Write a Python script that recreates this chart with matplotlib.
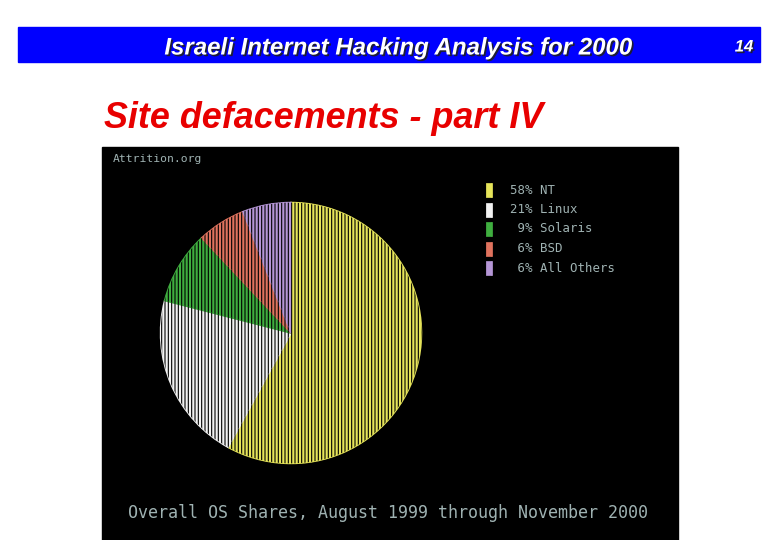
import matplotlib
matplotlib.use('Agg')
import matplotlib.pyplot as plt
import matplotlib.patheffects as pe
from matplotlib.patches import Rectangle

# data
os_names = ['NT', 'Linux', 'Solaris', 'BSD', 'All Others']
os_share = [58, 21, 9, 6, 6]
os_colors = ['#e6e45a', '#f2f2f2', '#3fae3f', '#e0735e', '#b596d6']

title = 'Israeli Internet Hacking Analysis for 2000'
subtitle = 'Site defacements - part IV'
caption = 'Overall OS Shares, August 1999 through November 2000'

plt.rcParams['hatch.linewidth'] = 0.8

fig = plt.figure(figsize=(7.8, 5.4), dpi=100)
fig.patch.set_facecolor('white')

# page layer in pixel coords
bg = fig.add_axes([0, 0, 1, 1])
bg.set_xlim(0, 780)
bg.set_ylim(540, 0)
bg.axis('off')

bg.add_patch(Rectangle((18, 27), 742, 35, color='#0000ff'))
shadow = [pe.withSimplePatchShadow(offset=(1.2, -1.2), shadow_rgbFace='#202020', alpha=0.9)]
bg.text(398, 48, title, color='white', fontsize=17.3, fontweight='bold', style='italic',
        family='Liberation Sans', ha='center', va='center', path_effects=shadow)
bg.text(744, 47, '14', color='white', fontsize=12, fontweight='bold', style='italic',
        family='Liberation Sans', ha='center', va='center', path_effects=shadow)
bg.text(104, 118, subtitle, color='#e80000', fontsize=25.8, fontweight='bold', style='italic',
        family='Liberation Sans', ha='left', va='center')

# black screenshot area
bg.add_patch(Rectangle((102, 147), 576, 393, color='black'))
txt_col = '#9fb2b2'
bg.text(113, 159, 'Attrition.org', color=txt_col, fontsize=8.2, family='DejaVu Sans Mono',
        ha='left', va='center')
bg.text(388, 513, caption, color=txt_col, fontsize=12, family='DejaVu Sans Mono',
        ha='center', va='center')

# legend
for i, (name, share, col) in enumerate(zip(os_names, os_share, os_colors)):
    y = 190 + i * 19.5
    bg.add_patch(Rectangle((486, y - 7), 6, 14, facecolor=col, edgecolor=col,
                           hatch='|||', lw=0.5))
    bg.text(510, y, '%2d%% %s' % (share, name), color=txt_col, fontsize=8.9,
            family='DejaVu Sans Mono', ha='left', va='center')

# pie
cx, cy, r = 291, 333, 133
ax = fig.add_axes([(cx - r) / 780, (540 - cy - r) / 540, 2 * r / 780, 2 * r / 540])
ax.set_facecolor('black')
wedges, _ = ax.pie(os_share, colors=os_colors, startangle=90, counterclock=False,
                   wedgeprops=dict(linewidth=1.2, edgecolor='none'))
for w, col in zip(wedges, os_colors):
    w.set_edgecolor(col)
over, _ = ax.pie(os_share, colors=['none'] * len(os_share), startangle=90, counterclock=False,
                 wedgeprops=dict(linewidth=0, edgecolor='black', hatch='|||||'))
ax.set_xlim(-1.02, 1.02)
ax.set_ylim(-1.02, 1.02)
ax.axis('off')

fig.savefig('out.png', dpi=100)
